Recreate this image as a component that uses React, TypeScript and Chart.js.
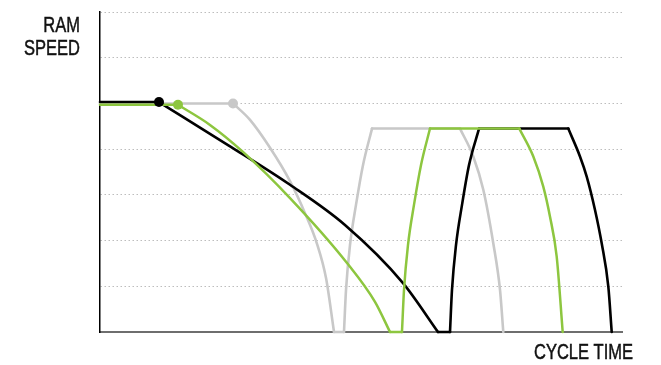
import React, { useEffect, useRef } from "react";
import { Chart, registerables } from "chart.js";

Chart.register(...registerables);

type Pt = [number, number];

// ---- axis ranges / labels ----
const X_MIN = 0;
const X_MAX = 10;
const Y_MIN = 0;
const Y_MAX = 7;
const Y_STEP = 1;
const Y_LABEL_LINES = ["RAM", "SPEED"];
const X_LABEL = "CYCLE TIME";

// ---- colours ----
const GREEN = "#8dc63f";
const BLACK = "#000000";
const GRAY = "#c8c8c8";

// ---- green series ----
const greenFlat: Pt[] = [[0, 4.97], [1.494, 4.97]];
const greenDrop: Pt[] = [[1.494, 4.97], [2.107, 4.53], [2.739, 3.94], [3.64, 2.93], [4.732, 1.51], [5.268, 0.66], [5.556, 0]];
const greenBottom: Pt[] = [[5.556, 0], [5.785, 0]];
const greenRise: Pt[] = [[5.785, 0], [5.824, 0.92], [5.9, 1.9], [6.015, 2.78], [6.149, 3.65], [6.322, 4.45]];
const greenTop: Pt[] = [[6.322, 4.45], [8.033, 4.45]];
const greenFall: Pt[] = [[8.033, 4.45], [8.301, 3.84], [8.492, 3.18], [8.621, 2.52], [8.749, 1.65], [8.864, 0]];
const greenDot: Pt = [1.494, 4.97];

// ---- black series ----
const blackFlat: Pt[] = [[0, 5.03], [1.13, 5.03]];
const blackDrop: Pt[] = [[1.13, 5.03], [2.452, 4.09], [3.64, 3.22], [4.693, 2.34], [5.805, 1.07], [6.475, 0]];
const blackBottom: Pt[] = [[6.475, 0], [6.705, 0]];
const blackRise: Pt[] = [[6.705, 0], [6.743, 0.92], [6.82, 1.9], [6.935, 2.78], [7.069, 3.65], [7.261, 4.45]];
const blackTop: Pt[] = [[7.261, 4.45], [8.971, 4.45]];
const blackFall: Pt[] = [[8.971, 4.45], [9.195, 3.84], [9.324, 3.4], [9.483, 2.67], [9.611, 1.94], [9.738, 0.99], [9.803, 0]];
const blackDot: Pt = [1.13, 5.03];

// ---- gray series ----
const grayFlat: Pt[] = [[0, 5.0], [2.548, 5.0]];
const grayDrop: Pt[] = [[2.548, 5.0], [2.874, 4.64], [3.257, 4.03], [3.64, 3.3], [3.927, 2.6], [4.157, 1.93], [4.33, 1.18], [4.483, 0]];
const grayBottom: Pt[] = [[4.483, 0], [4.674, 0]];
const grayRise: Pt[] = [[4.674, 0], [4.713, 0.92], [4.789, 1.9], [4.904, 2.78], [5.038, 3.65], [5.211, 4.45]];
const grayTop: Pt[] = [[5.211, 4.45], [6.897, 4.45]];
const grayFall: Pt[] = [[6.897, 4.45], [7.151, 3.84], [7.343, 3.11], [7.534, 1.94], [7.663, 0.92], [7.726, 0]];
const grayDot: Pt = [2.548, 5.0];

const SERIES = [
  { color: GREEN, width: 2.5, order: 1, dot: greenDot, segments: [greenFlat, greenDrop, greenBottom, greenRise, greenTop, greenFall] },
  { color: BLACK, width: 2.6, order: 2, dot: blackDot, segments: [blackFlat, blackDrop, blackBottom, blackRise, blackTop, blackFall] },
  { color: GRAY, width: 2.6, order: 3, dot: grayDot, segments: [grayFlat, grayDrop, grayBottom, grayRise, grayTop, grayFall] },
];

const FONT = '22px "Liberation Sans", Arial, sans-serif';
const TEXT_SCALE_X = 0.75;

function drawText(ctx: CanvasRenderingContext2D, text: string, rightX: number, baseline: number) {
  ctx.save();
  ctx.translate(rightX, baseline);
  ctx.scale(TEXT_SCALE_X, 1);
  ctx.fillText(text, 0, 0);
  ctx.strokeText(text, 0, 0);
  ctx.restore();
}

const labelPlugin = {
  id: "axisLabels",
  afterDraw(chart: any) {
    const { ctx, chartArea } = chart;
    ctx.save();
    ctx.font = FONT;
    ctx.fillStyle = "#111111";
    ctx.strokeStyle = "#111111";
    ctx.lineWidth = 0.5;
    ctx.textAlign = "right";
    ctx.textBaseline = "alphabetic";
    const yx = chartArea.left - 20;
    Y_LABEL_LINES.forEach((t, i) => drawText(ctx, t, yx, chartArea.top + 19.5 + i * 23.5));
    drawText(ctx, X_LABEL, chartArea.right + 11, chartArea.bottom + 27);
    ctx.restore();
  },
};

export default function App() {
  const ref = useRef<HTMLCanvasElement | null>(null);

  useEffect(() => {
    if (!ref.current) return;
    const datasets: any[] = [];
    SERIES.forEach((s) => {
      datasets.push({
        data: [{ x: s.dot[0], y: s.dot[1] }],
        showLine: false,
        pointRadius: 5,
        pointBackgroundColor: s.color,
        pointBorderColor: s.color,
        pointBorderWidth: 0,
        order: 0,
        clip: false,
      });
      s.segments.forEach((seg) => {
        datasets.push({
          data: seg.map(([x, y]) => ({ x, y })),
          borderColor: s.color,
          borderWidth: s.width,
          pointRadius: 0,
          fill: false,
          cubicInterpolationMode: "monotone",
          borderCapStyle: "round",
          borderJoinStyle: "round",
          order: s.order,
          clip: false,
        });
      });
    });

    const chart = new Chart(ref.current, {
      type: "line",
      data: { datasets },
      options: {
        animation: false,
        responsive: false,
        events: [],
        layout: { padding: { left: 100, right: 39, top: 12, bottom: 33 } },
        plugins: { legend: { display: false }, tooltip: { enabled: false } },
        scales: {
          x: {
            type: "linear",
            min: X_MIN,
            max: X_MAX,
            ticks: { display: false },
            grid: { display: false, drawTicks: false },
            border: { display: true, color: "#6e6e6e", width: 2 },
          },
          y: {
            type: "linear",
            min: Y_MIN,
            max: Y_MAX,
            ticks: { display: false, stepSize: Y_STEP },
            grid: {
              drawTicks: false,
              lineWidth: 1,
              color: (c: any) => (c.tick && c.tick.value === 0 ? "rgba(0,0,0,0)" : "#bdbdbd"),
            },
            border: { display: true, color: "#000000", width: 1.5, dash: [1.5, 2.5] },
          },
        },
      },
      plugins: [labelPlugin],
    });
    return () => chart.destroy();
  }, []);

  return (
    <div style={{ position: "absolute", left: 0, top: 0, width: 661, height: 365, background: "#fff" }}>
      <canvas ref={ref} width={661} height={365} />
    </div>
  );
}
